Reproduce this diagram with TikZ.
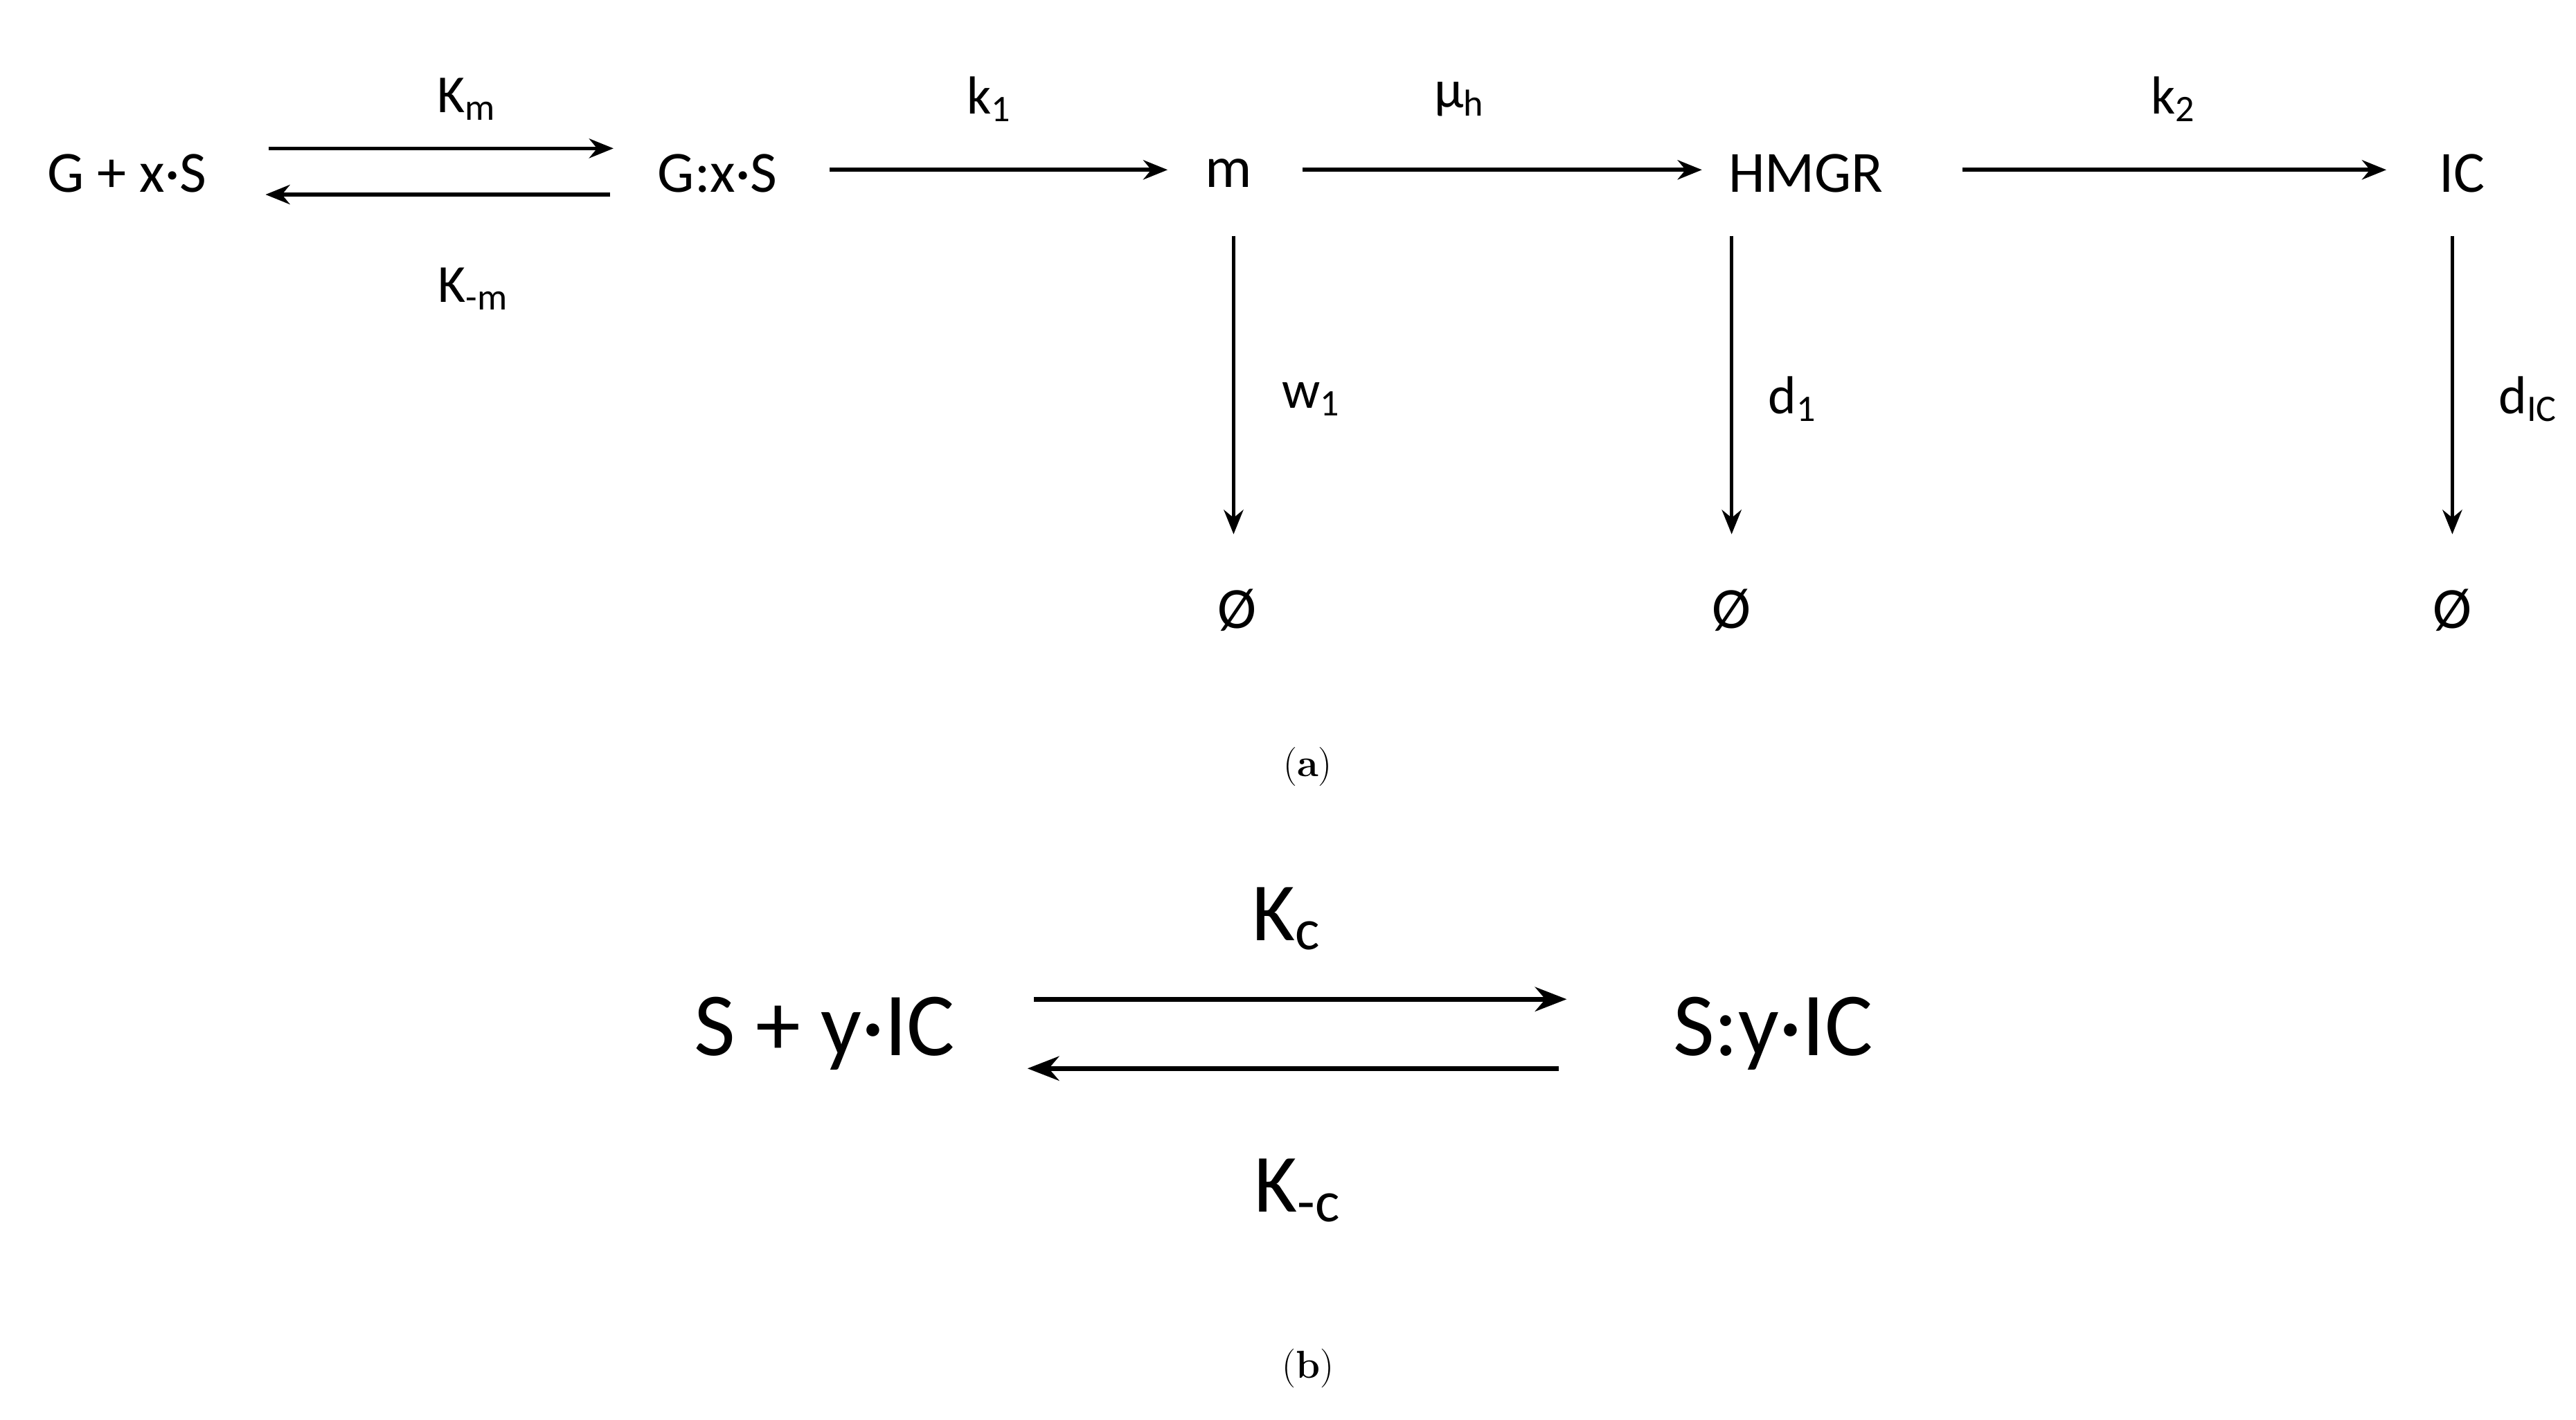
\documentclass[tikz,border=0pt]{standalone}
\usepackage{fontspec}
\setmainfont{Carlito}
\newfontfamily\capfont{Latin Modern Roman}
\usetikzlibrary{arrows.meta}
\begin{document}
\begin{tikzpicture}[x=0.2382mm,y=-0.2382mm,
  sp/.style={inner sep=0pt,font=\fontsize{24}{28}\selectfont},
  bsp/.style={inner sep=0pt,font=\fontsize{37}{42}\selectfont},
  lbl/.style={inner sep=0pt,font=\fontsize{22}{26}\selectfont},
  blbl/.style={inner sep=0pt,font=\fontsize{34}{40}\selectfont},
  captxt/.style={inner sep=0pt,font=\capfont\fontsize{16}{20}\selectfont},
  arr/.style={line width=1.6pt,-{Stealth[length=10pt,width=8pt]}},
  barr/.style={line width=2pt,-{Stealth[length=13pt,width=10pt]}}]
\useasboundingbox (0,0) rectangle (1562,861);
\node[sp] (gxs) at (77,105) {G + x·S};
\node[sp] (gcxs) at (435,105) {G:x·S};
\node[sp] (m) at (745,105) {m};
\node[sp] (hmgr) at (1095,105) {HMGR};
\node[sp] (ic) at (1493,105) {IC};
\node[sp] (o1) at (750,370) {Ø};
\node[sp] (o2) at (1050,370) {Ø};
\node[sp] (o3) at (1487,370) {Ø};
\coordinate (r1a) at (163,90); \coordinate (r1b) at (372,90);
\coordinate (r2a) at (370,118); \coordinate (r2b) at (161,118);
\coordinate (k1a) at (503,103); \coordinate (k1b) at (708,103);
\coordinate (mua) at (790,103); \coordinate (mub) at (1032,103);
\coordinate (k2a) at (1190,103); \coordinate (k2b) at (1447,103);
\coordinate (w1a) at (748,143); \coordinate (w1b) at (748,324);
\coordinate (d1a) at (1050,143); \coordinate (d1b) at (1050,324);
\coordinate (dica) at (1487,143); \coordinate (dicb) at (1487,324);
\draw[arr] (r1a) -- (r1b);
\draw[arr] (r2a) -- (r2b);
\draw[arr] (k1a) -- (k1b);
\draw[arr] (mua) -- (mub);
\draw[arr] (k2a) -- (k2b);
\draw[arr] (w1a) -- (w1b);
\draw[arr] (d1a) -- (d1b);
\draw[arr] (dica) -- (dicb);
\node[lbl] (lkm) at (283,60) {K\textsubscript{m}};
\node[lbl] (lkmm) at (287,175) {K\textsubscript{-m}};
\node[lbl] (lk1) at (600,60) {k\textsubscript{1}};
\node[lbl] (lmu) at (885,60) {µ\textsubscript{h}};
\node[lbl] (lk2) at (1318,60) {k\textsubscript{2}};
\node[lbl] (lw1) at (795,242) {w\textsubscript{1}};
\node[lbl] (ld1) at (1087,242) {d\textsubscript{1}};
\node[lbl] (ldic) at (1533,242) {d\textsubscript{IC}};
\node[captxt] (ca) at (793,465) {(\textbf{a})};
\node[bsp] (syic) at (500,627) {S + y·IC};
\node[bsp] (scyic) at (1075,627) {S:y·IC};
\coordinate (b1a) at (627,606); \coordinate (b1b) at (950,606);
\coordinate (b2a) at (945,648); \coordinate (b2b) at (623,648);
\draw[barr] (b1a) -- (b1b);
\draw[barr] (b2a) -- (b2b);
\node[blbl] (lkc) at (780,557) {K\textsubscript{c}};
\node[blbl] (lkmc) at (787,722) {K\textsubscript{-c}};
\node[captxt] (cb) at (793,830) {(\textbf{b})};
\end{tikzpicture}
\end{document}
